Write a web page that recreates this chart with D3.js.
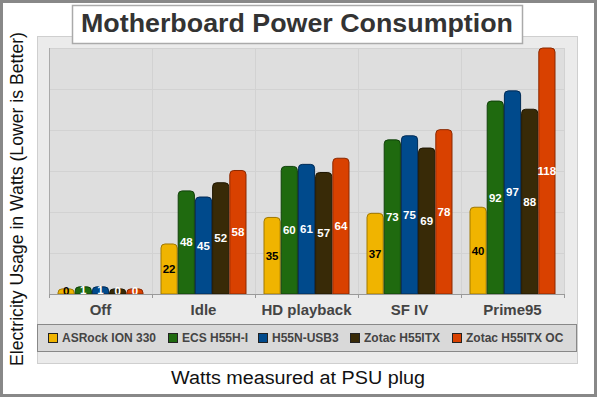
<!DOCTYPE html>
<html>
<head>
<meta charset="utf-8">
<script src="https://cdn.jsdelivr.net/npm/d3@7"></script>
<style>
  body { margin: 0; background: #fff; }
  svg { display: block; font-family: "Liberation Sans", Arial, sans-serif; }
</style>
</head>
<body>
<svg width="600" height="400"></svg>
<script>
var categories = ["Off", "Idle", "HD playback", "SF IV", "Prime95"]
var boards = ["ASRock ION 330", "ECS H55H-I", "H55N-USB3", "Zotac H55ITX", "Zotac H55ITX OC"]
var asrock = [0, 22, 35, 37, 40]
var ecs = [1, 48, 60, 73, 92]
var h55n = [1, 45, 61, 75, 97]
var zotac = [0, 52, 57, 69, 88]
var zotacOC = [0, 58, 64, 78, 118]
var series = [asrock, ecs, h55n, zotac, zotacOC]

var colors = ["#f0b400", "#1f6a0f", "#004a8c", "#382a07", "#d94100"]
var strokes = ["#a07800", "#10400a", "#002a55", "#1e1600", "#8a2800"]
var labelColors = ["#000", "#fff", "#fff", "#fff", "#fff"]

var plot = {"left": 49, "right": 564, "top": 48, "bottom": 294}

var svg = d3.select("svg")

// outer frame
svg.append("rect")
  .attr("x", 1.5).attr("y", 1.5)
  .attr("width", 594).attr("height", 394)
  .attr("fill", "#fff")
  .attr("stroke", "#888")
  .attr("stroke-width", 3)

// light background panel
svg.append("rect")
  .attr("x", 37.5).attr("y", 36.5)
  .attr("width", 540).attr("height", 327)
  .attr("fill", "#ebebeb")
  .attr("stroke", "#cfcfcf")

// plot area
svg.append("rect")
  .attr("x", plot.left).attr("y", plot.top)
  .attr("width", plot.right - plot.left).attr("height", plot.bottom - plot.top)
  .attr("fill", "#dedede")

var x = d3.scaleBand()
  .domain(categories)
  .range([plot.left, plot.right])

var xInner = d3.scaleBand()
  .domain(d3.range(boards.length))
  .range([8.5, x.bandwidth() - 8.5])

var y = d3.scaleLinear()
  .domain([-2.5, 118])
  .range([plot.bottom, plot.top])

var grid = d3.scaleLinear().domain([0, 6]).range([plot.bottom, plot.top])

// horizontal grid
svg.append("g").selectAll("line")
  .data(d3.range(1, 7))
  .enter().append("line")
  .attr("x1", plot.left).attr("x2", plot.right)
  .attr("y1", function(d){ return Math.round(grid(d)) + 0.5 })
  .attr("y2", function(d){ return Math.round(grid(d)) + 0.5 })
  .attr("stroke", "#d2d2d2")

// vertical grid
svg.append("g").selectAll("line")
  .data(categories.slice(1).concat(["end"]))
  .enter().append("line")
  .attr("x1", function(d){ return (d === "end" ? plot.right : x(d)) + 0.5 })
  .attr("x2", function(d){ return (d === "end" ? plot.right : x(d)) + 0.5 })
  .attr("y1", plot.top).attr("y2", plot.bottom)
  .attr("stroke", "#d2d2d2")

// left axis line
svg.append("line")
  .attr("x1", plot.left + 0.5).attr("x2", plot.left + 0.5)
  .attr("y1", plot.top).attr("y2", plot.bottom)
  .attr("stroke", "#aaa")

// rounded top bar path
function barPath(x0, w, yTop, yBase) {
  var r = Math.min(4, (yBase - yTop), w / 2)
  return "M" + x0 + "," + yBase +
    "V" + (yTop + r) +
    "Q" + x0 + "," + yTop + " " + (x0 + r) + "," + yTop +
    "H" + (x0 + w - r) +
    "Q" + (x0 + w) + "," + yTop + " " + (x0 + w) + "," + (yTop + r) +
    "V" + yBase + "Z"
}

var groups = svg.append("g").selectAll("g")
  .data(categories)
  .enter().append("g")
  .attr("transform", function(d){ return "translate(" + x(d) + ",0)" })

groups.each(function(cat, ci) {
  var g = d3.select(this)
  series.forEach(function(vals, si) {
    var v = vals[ci]
    var x0 = xInner(si) + 0.5
    var w = xInner.bandwidth() - 1
    g.append("path")
      .attr("d", barPath(x0, w, y(v), plot.bottom))
      .attr("fill", colors[si])
      .attr("stroke", strokes[si])
      .attr("stroke-width", 1)
    g.append("text")
      .attr("x", xInner(si) + xInner.bandwidth() / 2)
      .attr("y", (y(v) + plot.bottom) / 2)
      .attr("dy", "0.35em")
      .attr("text-anchor", "middle")
      .attr("font-size", "11.5px")
      .attr("font-weight", "bold")
      .attr("fill", labelColors[si])
      .text(v)
  })
})

// x axis
var xAxis = svg.append("g")
  .attr("transform", "translate(0," + plot.bottom + ")")
  .call(d3.axisBottom(x).tickSize(0).tickPadding(10))
xAxis.select(".domain").remove()
xAxis.selectAll("text")
  .attr("font-family", "Liberation Sans, Arial, sans-serif")
  .attr("font-size", "15px")
  .attr("font-weight", "bold")
  .attr("fill", "#444")

svg.append("line")
  .attr("x1", plot.left).attr("x2", plot.right + 1)
  .attr("y1", plot.bottom + 0.5).attr("y2", plot.bottom + 0.5)
  .attr("stroke", "#999")

svg.append("g").selectAll("line")
  .data(categories.concat(["end"]))
  .enter().append("line")
  .attr("x1", function(d){ return (d === "end" ? plot.right : x(d)) + 0.5 })
  .attr("x2", function(d){ return (d === "end" ? plot.right : x(d)) + 0.5 })
  .attr("y1", plot.bottom).attr("y2", plot.bottom + 4)
  .attr("stroke", "#999")

// title
svg.append("rect")
  .attr("x", 72.5).attr("y", 5.5)
  .attr("width", 450).attr("height", 38)
  .attr("fill", "#fff")
  .attr("stroke", "#aaa")
  .attr("stroke-width", 1.5)
svg.append("text")
  .attr("x", 81).attr("y", 32)
  .attr("font-size", "25px")
  .attr("font-weight", "bold")
  .attr("fill", "#333")
  .attr("textLength", 432)
  .attr("lengthAdjust", "spacingAndGlyphs")
  .text("Motherboard Power Consumption")

// legend
svg.append("rect")
  .attr("x", 37.5).attr("y", 324.5)
  .attr("width", 539).attr("height", 27)
  .attr("fill", "#d9d9d9")
  .attr("stroke", "#888")

var legendX = [48, 168, 258, 350, 452]
var legend = svg.append("g").selectAll("g")
  .data(boards)
  .enter().append("g")
  .attr("transform", function(d, i){ return "translate(" + legendX[i] + ",333)" })
legend.append("rect")
  .attr("x", 0.5).attr("y", 0.5)
  .attr("width", 9).attr("height", 9)
  .attr("fill", function(d, i){ return colors[i] })
  .attr("stroke", "#222")
legend.append("text")
  .attr("x", 14).attr("y", 5)
  .attr("dy", "0.35em")
  .attr("font-size", "12px")
  .attr("font-weight", "bold")
  .attr("fill", "#444")
  .text(function(d){ return d })

// axis titles
svg.append("text")
  .attr("transform", "translate(23,199) rotate(-90)")
  .attr("x", -167)
  .attr("font-size", "18px")
  .attr("fill", "#111")
  .attr("textLength", 334)
  .attr("lengthAdjust", "spacingAndGlyphs")
  .text("Electricity Usage in Watts (Lower is Better)")

svg.append("text")
  .attr("x", 171).attr("y", 384)
  .attr("font-size", "18px")
  .attr("fill", "#111")
  .attr("textLength", 254)
  .attr("lengthAdjust", "spacingAndGlyphs")
  .text("Watts measured at PSU plug")
</script>
</body>
</html>
